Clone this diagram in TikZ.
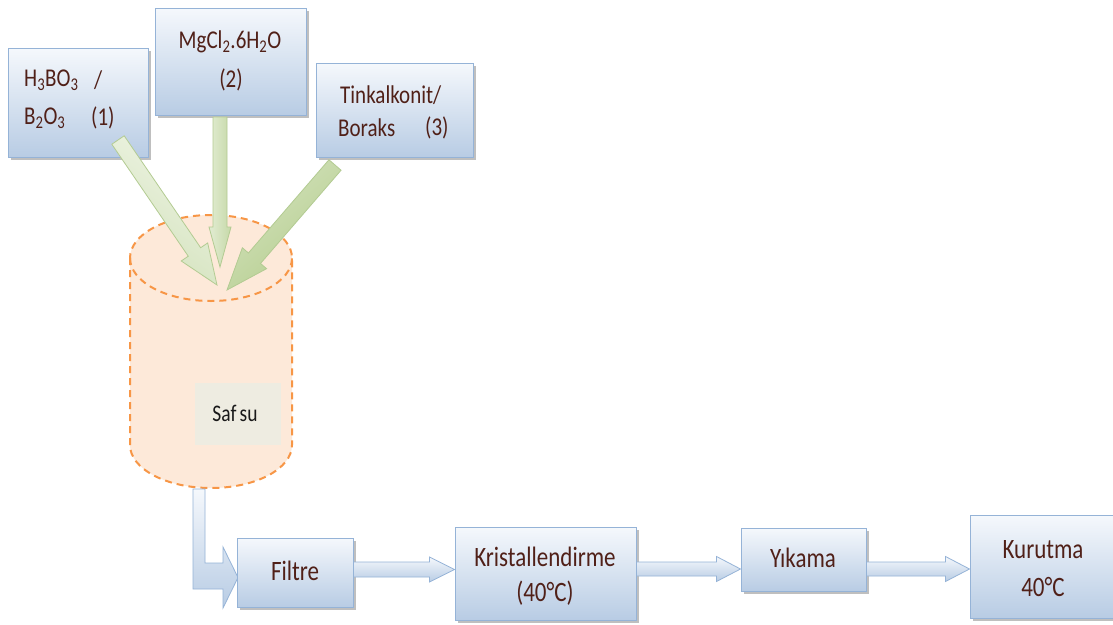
\documentclass[tikz,border=0pt]{standalone}
\usepackage{fontspec}
\setmainfont{Carlito}
\usepackage{graphicx}
\usetikzlibrary{calc,shadows}
\definecolor{boxtop}{HTML}{F5F8FC}
\definecolor{boxbot}{HTML}{B8CCE4}
\definecolor{boxline}{HTML}{95B3D7}
\definecolor{txt}{RGB}{80,32,24}
\definecolor{cylfill}{HTML}{FDE9D9}
\definecolor{cylline}{HTML}{F79646}
\definecolor{safbg}{HTML}{EEECE1}
\definecolor{gline}{HTML}{B3CB92}
\definecolor{gA1}{HTML}{EEF4E4}
\definecolor{gB1}{HTML}{D3E2BC}
\definecolor{gA2}{HTML}{E2ECD3}
\definecolor{gB2}{HTML}{C6D9A8}
\definecolor{gA3}{HTML}{D4E3BE}
\definecolor{gB3}{HTML}{B5CD8E}
\newcommand\tx[1]{\scalebox{1}[1.22]{#1}}
\newcommand\blockarr[6]{%
  \coordinate (hb) at ($(#3)!#6!(#2)$);
  \path[#1] ($(#2)!#4!90:(#3)$) -- ($(hb)!#4!-90:(#2)$) -- ($(hb)!#5!-90:(#2)$) -- (#3)
    -- ($(hb)!#5!90:(#2)$) -- ($(hb)!#4!90:(#2)$) -- ($(#2)!#4!-90:(#3)$) -- cycle;}
\tikzset{
  box/.style={draw=boxline, line width=1pt, top color=boxtop, bottom color=boxbot,
    drop shadow={shadow xshift=3pt, shadow yshift=-3pt, fill=black, opacity=0.25},
    inner sep=0pt, rectangle},
  topt/.style={inner sep=0pt, text=txt, font=\fontsize{21}{25}\selectfont},
  bott/.style={inner sep=0pt, text=txt, font=\fontsize{23}{27}\selectfont},
  blarrow/.style={draw=boxline, line width=0.8pt, top color=boxtop, bottom color=boxbot},
  garrow/.style={draw=gline, line width=0.8pt},
}
\begin{document}
\begin{tikzpicture}[x=1pt,y=1pt]
\path[use as bounding box, clip] (0,0) rectangle (1113,-624);
\fill[white] (0,0) rectangle (1113,-624);

% cylinder
\path[fill=cylfill] (130,-258) -- (130,-445) arc[start angle=180, end angle=360, x radius=81, y radius=43]
  -- (292,-258) arc[start angle=0, end angle=180, x radius=81, y radius=43] -- cycle;
\draw[cylline, line width=2pt, dash pattern=on 7pt off 5pt]
  (130,-258) -- (130,-445) arc[start angle=180, end angle=360, x radius=81, y radius=43]
  -- (292,-258) arc[start angle=0, end angle=180, x radius=81, y radius=43];
\draw[cylline, line width=2pt, dash pattern=on 7pt off 5pt]
  (130,-258) arc[start angle=180, end angle=360, x radius=81, y radius=43];
\node[fill=safbg, minimum width=86pt, minimum height=62pt, inner sep=0pt] (saf) at (238,-414) {};
\node[inner sep=0pt, text=black!90, font=\fontsize{19.5}{22}\selectfont] (saftxt) at (235,-413) {\tx{Saf\,su}};

% top boxes
\node[box, minimum width=140pt, minimum height=109pt] (b1) at (78,-102.5) {};
\node[box, minimum width=151pt, minimum height=107pt] (b2) at (230.5,-61.5) {};
\node[box, minimum width=157pt, minimum height=94pt] (b3) at (394.5,-110) {};

\node[topt, anchor=west] (t1a) at (24,-80) {\tx{H\textsubscript{3}BO\textsubscript{3}}};
\node[topt, anchor=west] (t1b) at (94,-80) {\tx{/}};
\node[topt, anchor=west] (t1c) at (24,-118) {\tx{B\textsubscript{2}O\textsubscript{3}}};
\node[topt, anchor=west] (t1d) at (91,-118) {\tx{(1)}};
\node[topt] (t2a) at (230,-42) {\tx{MgCl\textsubscript{2}.6H\textsubscript{2}O}};
\node[topt] (t2b) at (231,-80) {\tx{(2)}};
\node[topt, anchor=west] (t3a) at (340,-95) {\tx{Tinkalkonit/}};
\node[topt, anchor=west] (t3b) at (338,-128) {\tx{Boraks}};
\node[topt, anchor=west] (t3c) at (425,-128) {\tx{(3)}};

% green arrows
\coordinate (a1s) at (118,-140);
\coordinate (a1e) at (217,-285);
\coordinate (a2s) at (220,-117);
\coordinate (a2e) at (220,-267);
\coordinate (a3s) at (335,-165);
\coordinate (a3e) at (227,-290);
\blockarr{garrow, left color=gA1, right color=gB1, shading angle=-34}{a1s}{a1e}{7.5pt}{16pt}{40pt}
\blockarr{garrow, left color=gA2, right color=gB2}{a2s}{a2e}{7pt}{11pt}{40pt}
\blockarr{garrow, left color=gA3, right color=gB3, shading angle=41}{a3s}{a3e}{8pt}{16pt}{42pt}

% bent arrow from cylinder to Filtre
\path[blarrow] (193,-489) -- (205,-489) -- (205,-563) -- (223,-563) -- (223,-547)
  -- (238,-577.5) -- (223,-608) -- (223,-589) -- (193,-589) -- cycle;

% bottom boxes
\node[box, minimum width=116pt, minimum height=69pt] (filtre) at (295,-572.5) {};
\node[box, minimum width=181pt, minimum height=93pt] (krist) at (545.5,-573.5) {};
\node[box, minimum width=125pt, minimum height=63pt] (yikama) at (803.5,-559.5) {};
\node[box, minimum width=160pt, minimum height=103pt] (kurutma) at (1050,-566.5) {};

\node[bott] (tf) at (295,-571) {\tx{Filtre}};
\node[bott] (tk1) at (545,-557) {\tx{Kristallendirme}};
\node[bott] (tk2) at (545,-593) {\tx{(40°C)}};
\node[bott] (ty) at (803,-558) {\tx{Yıkama}};
\node[bott] (tku1) at (1043,-550) {\tx{Kurutma}};
\node[bott] (tku2) at (1043,-587) {\tx{40°C}};

% blue arrows
\coordinate (fa) at ($(filtre.east)+(0,3)$);
\coordinate (fb) at (krist.west |- fa);
\coordinate (ka) at ($(krist.east)+(0,4.5)$);
\coordinate (kb) at (yikama.west |- ka);
\coordinate (ya) at (yikama.east |- ka);
\coordinate (yb) at (kurutma.west |- ka);
\blockarr{blarrow}{fa}{fb}{7.5pt}{12.5pt}{25pt}
\blockarr{blarrow}{ka}{kb}{7pt}{12.5pt}{24pt}
\blockarr{blarrow}{ya}{yb}{7pt}{12.5pt}{24pt}
\end{tikzpicture}
\end{document}
